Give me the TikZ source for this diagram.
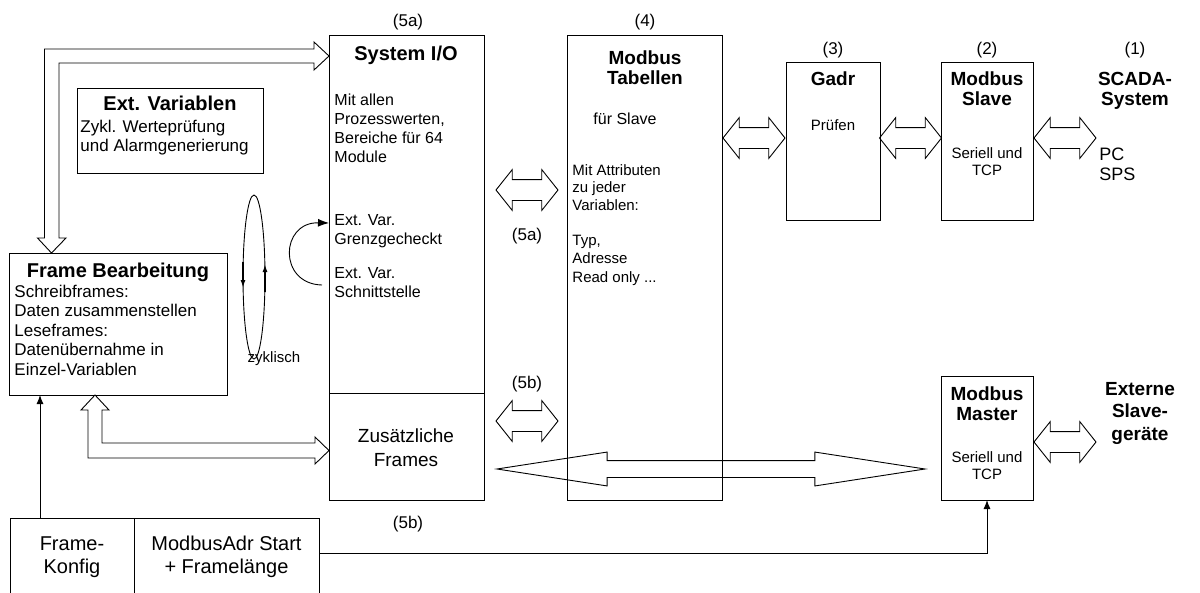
\documentclass[tikz,border=0pt]{standalone}
\usepackage{fontspec}
\setmainfont{Liberation Sans}
\usetikzlibrary{shapes.arrows,arrows.meta}

\tikzset{
  box/.style={draw, inner sep=0pt, outer sep=0pt, anchor=north west},
  dblarr/.style={draw, shape=double arrow, inner xsep=0pt, inner ysep=10pt, outer sep=0pt,
    double arrow head extend=10pt, double arrow tip angle=103, minimum height=62pt},
  ttl/.style={font=\fontsize{20}{23}\selectfont\bfseries, inner sep=0pt},
  hd/.style={font=\fontsize{19}{20}\selectfont\bfseries, inner sep=0pt, align=center},
  txt/.style={font=\fontsize{16}{19}\selectfont, inner sep=0pt, align=left},
  big/.style={font=\fontsize{17}{19.6}\selectfont, inner sep=0pt, align=left},
  sml/.style={font=\fontsize{15}{17.5}\selectfont, inner sep=0pt, align=center},
  lbl/.style={font=\fontsize{17}{20}\selectfont, inner sep=0pt, anchor=base},
  sarrow/.style={-{Latex[length=9pt,width=7pt]}}
}

\begin{document}
\begin{tikzpicture}[x=1pt,y=-1pt,line width=.9pt]
            \useasboundingbox (0,0) rectangle (1200,592);

            % Kaesten
            \node[box, minimum width=155, minimum height=358] (sysio) at (329,35) {};
            \node[box, minimum width=155, minimum height=107] (zus) at (329,393) {};
            \node[box, minimum width=155, minimum height=465] (tab) at (567,35) {};
            \node[box, minimum width=94, minimum height=158] (gadr) at (786,62) {};
            \node[box, minimum width=92, minimum height=158] (slave) at (941,62) {};
            \node[box, minimum width=92, minimum height=124] (master) at (941,376) {};
            \node[box, minimum width=218, minimum height=142] (frame) at (9,253) {};
            \node[box, minimum width=186, minimum height=85] (extvar) at (77,88) {};
            \node[box, minimum width=124, minimum height=76] (konfig) at (10,518) {};
            \node[box, minimum width=185, minimum height=76] (adr) at (134,518) {};

            % Nummern
            \node[lbl] (n5a) at (408,26) {(5a)};
            \node[lbl] (n4) at (645,26) {(4)};
            \node[lbl] (n3) at (833,54) {(3)};
            \node[lbl] (n2) at (987,54) {(2)};
            \node[lbl] (n1) at (1135,54) {(1)};
            \node[lbl] (m5a) at (527,240) {(5a)};
            \node[lbl] (m5b) at (527,388) {(5b)};
            \node[lbl] (u5b) at (408,528) {(5b)};

            % System I/O (anchor base = letzte Zeile)
            \node[ttl, anchor=base] (siot) at (406,60) {System I/O};
            \node[txt, anchor=base west] (siob) at (334,162) {Mit allen\\Prozesswerten,\\Bereiche für 64\\Module};
            \node[txt, anchor=base west] (ev1) at (334,244) {Ext. Var.\\Grenzgecheckt};
            \node[txt, anchor=base west] (ev2) at (334,297) {Ext. Var.\\Schnittstelle};
            \node[font=\fontsize{19}{24}\selectfont, inner sep=0pt, align=center, anchor=base] (zust) at (406,466) {Zusätzliche\\Frames};

            % Modbus Tabellen
            \node[hd, anchor=base] (tabt) at (645,84) {Modbus\\Tabellen};
            \node[txt, anchor=base west] (tabf) at (593,124) {für Slave};
            \node[txt, anchor=base west, font=\fontsize{15}{17.5}\selectfont] (taba) at (572,210) {Mit Attributen\\zu jeder\\Variablen:};
            \node[txt, anchor=base west, font=\fontsize{15}{18.5}\selectfont] (tabv) at (572,282) {Typ,\\Adresse\\Read only ...};

            % Gadr, Slave, SCADA
            \node[hd, anchor=base] (gadrt) at (833,85) {Gadr};
            \node[sml, anchor=base] (gadrb) at (833,130) {Prüfen};
            \node[hd, anchor=base] (slavet) at (987,105) {Modbus\\Slave};
            \node[sml, anchor=base] (slaveb) at (987,175.5) {Seriell und\\TCP};
            \node[hd, anchor=base] (scada) at (1135,105) {SCADA-\\System};
            \node[big, anchor=base west, font=\fontsize{18}{20}\selectfont] (pc) at (1099,180) {PC\\SPS};

            % Master
            \node[hd, anchor=base] (mastert) at (987,420) {Modbus\\Master};
            \node[sml, anchor=base] (masterb) at (987,479.5) {Seriell und\\TCP};
            \node[hd, anchor=base, font=\fontsize{19}{22.5}\selectfont\bfseries] (extt) at (1140,440) {Externe\\Slave-\\geräte};

            % linke Seite
            \node[ttl, anchor=base] (extvt) at (170,110) {Ext. Variablen};
            \node[big, anchor=base west] (extvb) at (80,151.6) {Zykl. Werteprüfung\\und Alarmgenerierung};
            \node[ttl, anchor=base] (framet) at (118,277) {Frame Bearbeitung};
            \node[big, anchor=base west] (frameb) at (14,375.4) {Schreibframes:\\Daten zusammenstellen\\Leseframes:\\Datenübernahme in\\Einzel-Variablen};
            \node[font=\fontsize{20}{23}\selectfont, inner sep=0pt, align=center, anchor=base] (konfigt) at (72,573) {Frame-\\Konfig};
            \node[font=\fontsize{20}{23}\selectfont, inner sep=0pt, align=center, anchor=base] (adrt) at (226.5,573) {ModbusAdr Start\\+ Framelänge};

            % Doppelpfeile
            \node[dblarr] (p5a) at (527,190) {};
            \node[dblarr] (p5b) at (527,421) {};
            \node[dblarr] (ptg) at (754,138) {};
            \node[dblarr] (pgs) at (910.5,138) {};
            \node[dblarr] (psp) at (1065,138) {};
            \node[dblarr] (pme) at (1065,442) {};
            \node[dblarr, minimum height=428, inner ysep=8pt, double arrow head extend=8.5pt,
                  double arrow tip angle=17.5] (plang) at (711,469) {};

            % Blockpfeile links
            \coordinate (fbin) at (51.5,253);
            \draw (fbin) -- ++(14.5,-15) -- ++(-7,0) |- (314,63) -- ++(0,7) -- (sysio.west |- 0,56)
                  -- ++(-15,-14) -- ++(0,7) -| (44.5,238) -- ++(-7,0) -- cycle;
            \coordinate (fbout) at (95,395);
            \draw (fbout) -- ++(14,15) -- ++(-7,0) |- (315,443) -- ++(0,-6) -- (zus.west |- 0,450.5)
                  -- ++(-14,13.5) -- ++(0,-6) -| (88,410) -- ++(-7,0) -- cycle;

            % Zyklus
            \draw (254,277) ellipse [x radius=11, y radius=82];
            \draw[line width=2pt, -{Latex[length=8pt,width=5pt]}] (243,262) -- (243,288);
            \draw[line width=2pt, -{Latex[length=8pt,width=5pt]}] (265,292) -- (265,264);
            \node[sml, anchor=base] (zyk) at (274,362) {zyklisch};
            \coordinate (cv) at (322,285);
            \draw[-{Latex[length=11pt,width=8pt]}] (cv) .. controls (278,284) and (280,222) .. (sysio.west |- 0,223);

            % Konfig
            \draw[sarrow] (konfig.north -| 40,0) -- (frame.south -| 40,0);
            \draw[sarrow] ([yshift=3pt]adr.east) -| (master.south);
\end{tikzpicture}
\end{document}
